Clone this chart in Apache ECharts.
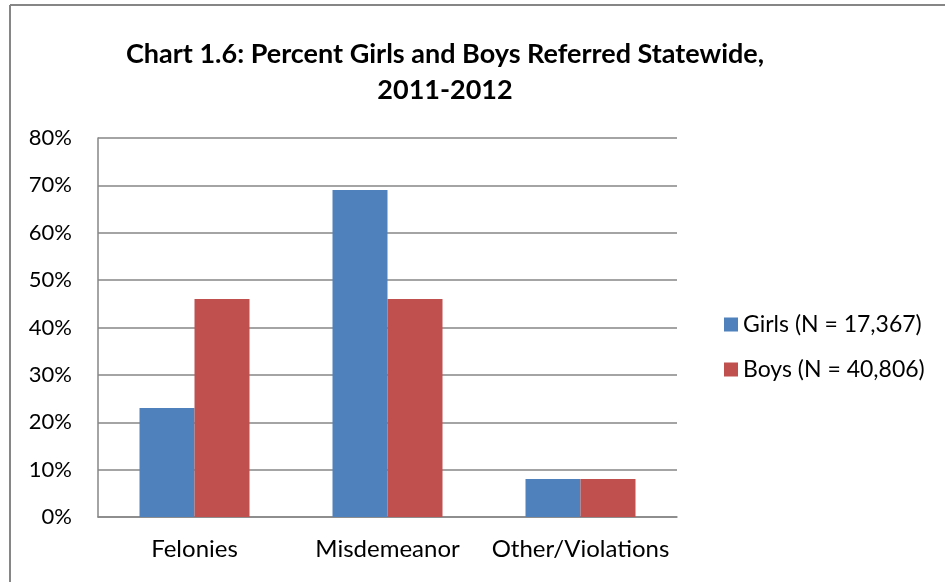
<!DOCTYPE html>
<html>
<head>
<meta charset="utf-8">
<script src="https://cdn.jsdelivr.net/npm/echarts@6/dist/echarts.min.js"></script>
<style>html,body{margin:0;padding:0;background:#fff}#c{width:945px;height:582px}</style>
</head>
<body>
<div id="c"></div>
<script>
const categories = ['Felonies', 'Misdemeanor', 'Other/Violations'];
const girls = [23, 69, 8];
const boys = [46, 46, 8];
const seriesNames = ['Girls (N = 17,367)', 'Boys (N = 40,806)'];
const titleText = 'Chart 1.6: Percent Girls and Boys Referred Statewide,\n2011-2012';

const font = 'Lato, "Liberation Sans", sans-serif';
const chart = echarts.init(document.getElementById('c'), null, {renderer: 'canvas'});
chart.setOption({
  animation: false,
  backgroundColor: '#fff',
  textStyle: {fontFamily: font},
  title: {
    text: titleText,
    left: 440, top: 31, textAlign: 'center',
    textStyle: {fontFamily: font, fontWeight: 'bold', fontSize: 27, lineHeight: 36, color: '#000'}
  },
  graphic: [
    {type: 'line', shape: {x1: 10, y1: 5, x2: 945, y2: 5}, style: {stroke: '#868686', lineWidth: 2}},
    {type: 'line', shape: {x1: 10, y1: 5, x2: 10, y2: 582}, style: {stroke: '#868686', lineWidth: 2}}
  ],
  legend: {
    orient: 'vertical', left: 719, top: 308,
    itemWidth: 14, itemHeight: 14, itemGap: 22,
    icon: 'rect',
    textStyle: {fontFamily: font, fontSize: 23, color: '#000', padding: [0, 0, 0, 0]},
    data: seriesNames
  },
  grid: {left: 98, right: 268, top: 138, bottom: 65, containLabel: false},
  xAxis: {
    type: 'category', data: categories,
    axisLine: {lineStyle: {color: '#868686', width: 1.5}},
    axisTick: {show: false},
    axisLabel: {fontFamily: font, fontSize: 24, color: '#000', margin: 20, interval: 0, hideOverlap: false}
  },
  yAxis: {
    type: 'value', min: 0, max: 80, interval: 10,
    axisLine: {show: true, lineStyle: {color: '#868686', width: 1.5}},
    axisTick: {show: false},
    splitLine: {lineStyle: {color: '#868686', width: 1.5}},
    axisLabel: {fontFamily: font, fontSize: 22, color: '#000', margin: 26, formatter: '{value}%'}
  },
  series: [
    {name: seriesNames[0], type: 'bar', data: girls, barWidth: 55, barGap: '0%', itemStyle: {color: '#4F81BD'}},
    {name: seriesNames[1], type: 'bar', data: boys, barWidth: 55, barGap: '0%', itemStyle: {color: '#C0504D'}}
  ]
});
</script>
</body>
</html>
